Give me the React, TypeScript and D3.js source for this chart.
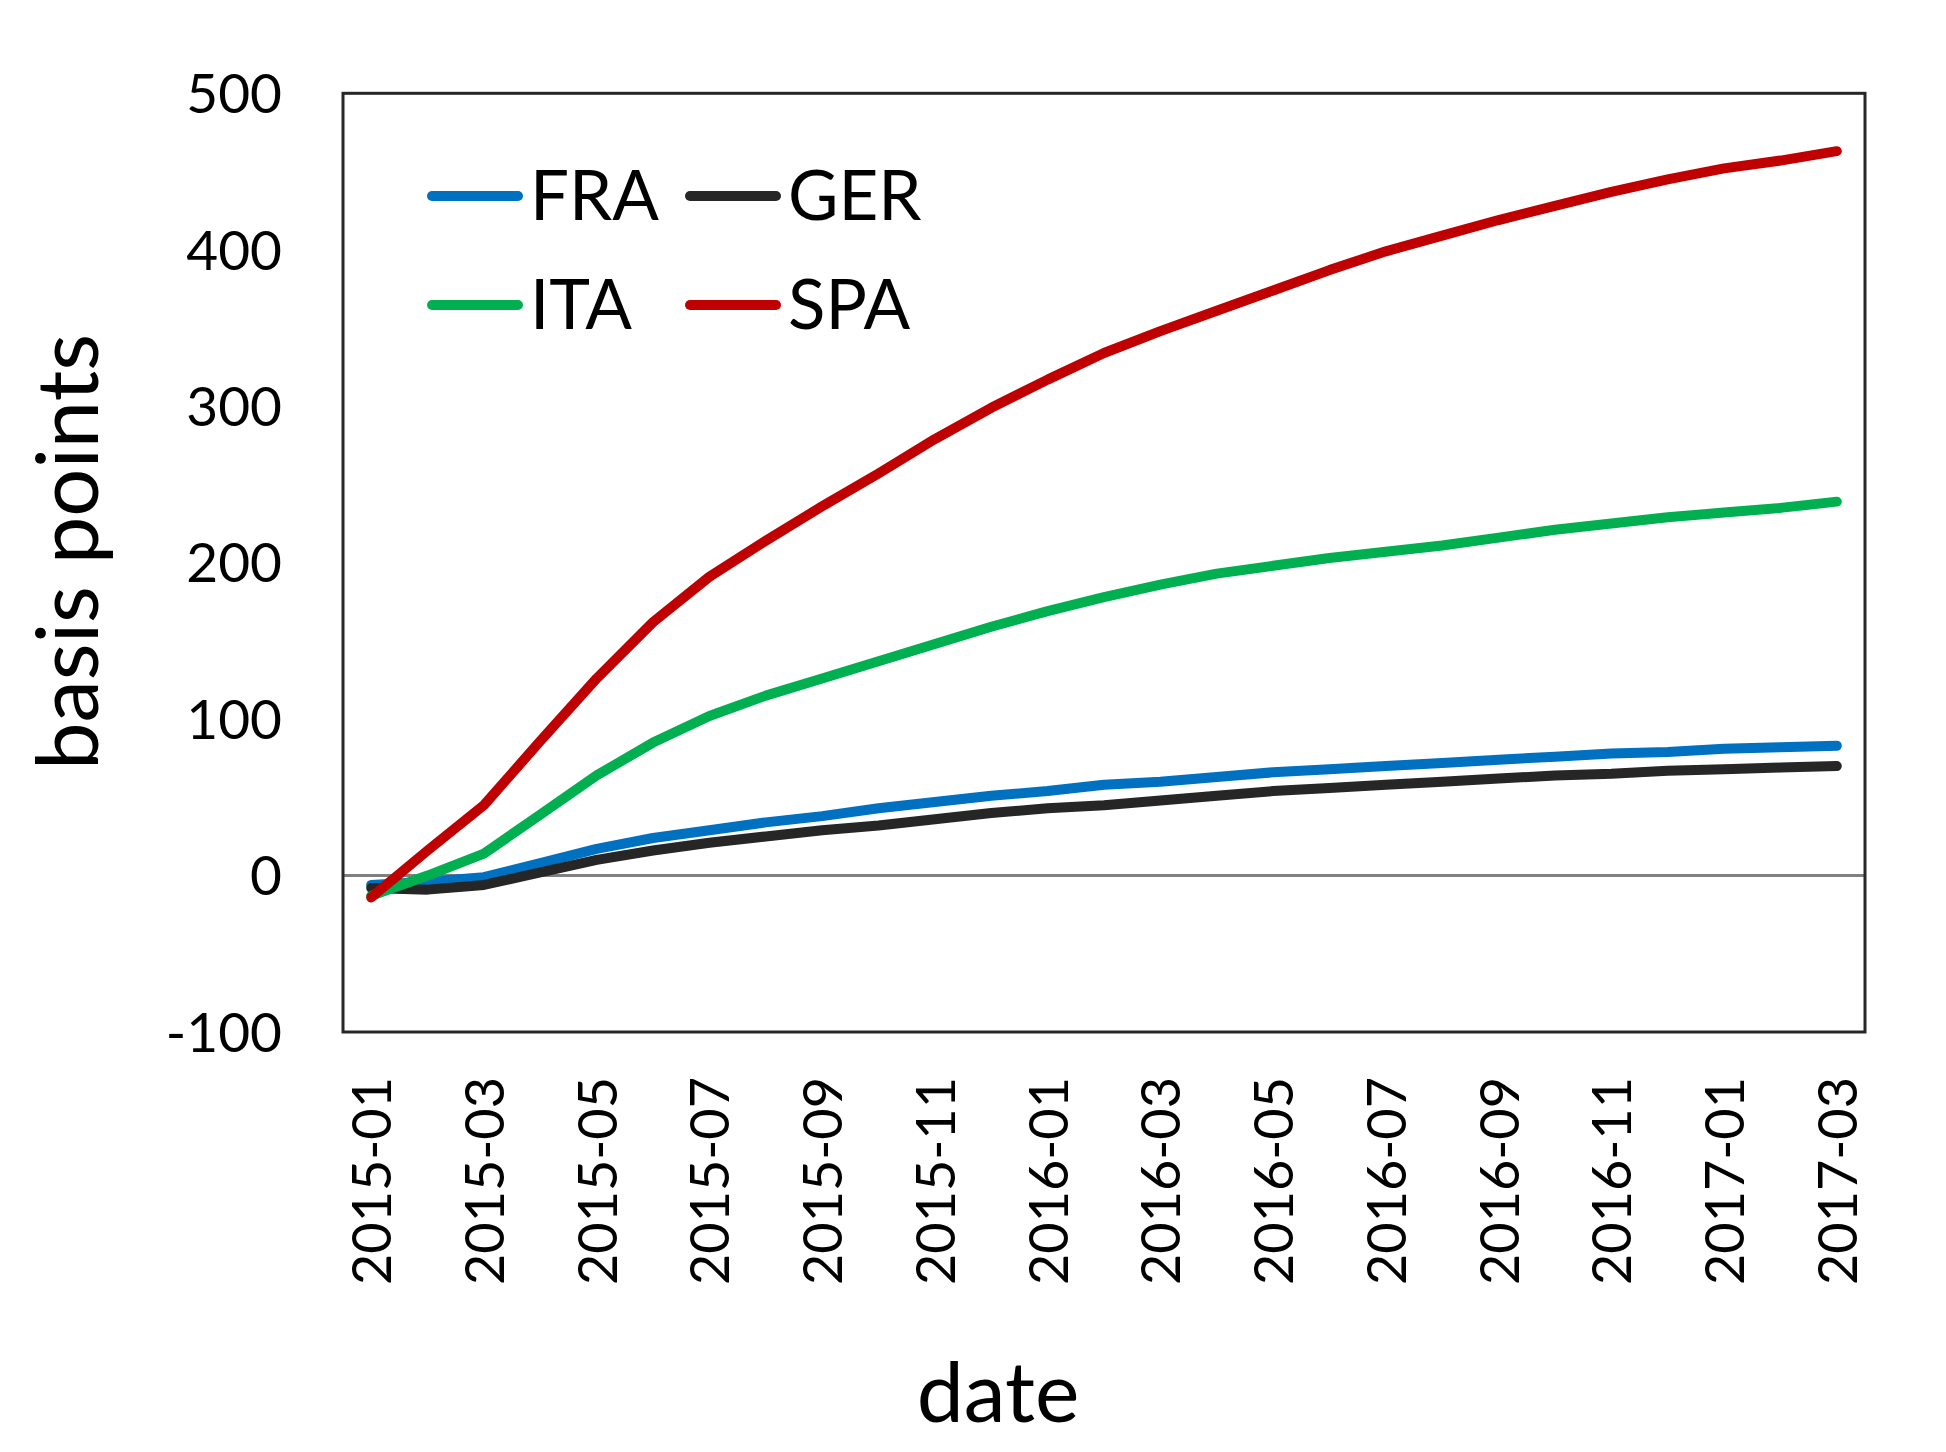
import React from "react";
import * as d3 from "d3";

const months: string[] = [
  "2015-01","2015-02","2015-03","2015-04","2015-05","2015-06","2015-07","2015-08","2015-09",
  "2015-10","2015-11","2015-12","2016-01","2016-02","2016-03","2016-04","2016-05","2016-06",
  "2016-07","2016-08","2016-09","2016-10","2016-11","2016-12","2017-01","2017-02","2017-03",
];

const fra: number[] = [-6,-4,-1,8,17,24,29,34,38,43,47,51,54,58,60,63,66,68,70,72,74,76,78,79,81,82,83];
const ger: number[] = [-8,-9,-6,2,10,16,21,25,29,32,36,40,43,45,48,51,54,56,58,60,62,64,65,67,68,69,70];
const ita: number[] = [-13,0,14,39,64,85,102,115,126,137,148,159,169,178,186,193,198,203,207,211,216,221,225,229,232,235,239];
const spa: number[] = [-14,16,45,86,126,162,191,214,236,257,279,299,317,334,348,361,374,387,399,409,419,428,437,445,452,457,463];

const seriesNames: string[] = ["FRA", "GER", "ITA", "SPA"];
const seriesColors: string[] = ["#0070C0", "#262626", "#00B050", "#C00000"];
const seriesValues: number[][] = [fra, ger, ita, spa];

const yTicks: number[] = [-100, 0, 100, 200, 300, 400, 500];
const xTickLabels: string[] = months.filter((_, i) => i % 2 === 0);

const FONT = "Lato, 'Open Sans', sans-serif";

export default function App() {
  const W = 1946, H = 1452;
  const left = 343, right = 1865, top = 93.3, bottom = 1032;

  const x = d3.scalePoint<string>().domain(months).range([left, right]).padding(0.5);
  const y = d3.scaleLinear().domain([-100, 500]).range([bottom, top]);

  const line = d3.line<number>()
    .x((_, i) => x(months[i]) as number)
    .y((d) => y(d));

  const legendItems = [
    { i: 0, lx: 427, ly: 196 },
    { i: 1, lx: 685, ly: 196 },
    { i: 2, lx: 427, ly: 305 },
    { i: 3, lx: 685, ly: 305 },
  ];

  return (
    <svg width={W} height={H} style={{ position: "absolute", left: 0, top: 0, background: "#fff" }} fontFamily={FONT}>
      <rect x={0} y={0} width={W} height={H} fill="#fff" />
      {/* zero line */}
      <line x1={left} x2={right} y1={y(0)} y2={y(0)} stroke="#808080" strokeWidth={3} />
      {/* series */}
      {seriesValues.map((vals, si) => (
        <path key={seriesNames[si]} d={line(vals) || ""} fill="none" stroke={seriesColors[si]}
          strokeWidth={10} strokeLinecap="round" strokeLinejoin="round" />
      ))}
      {/* frame */}
      <rect x={left} y={top} width={right - left} height={bottom - top} fill="none" stroke="#262626" strokeWidth={3} />
      {/* y tick labels */}
      {yTicks.map((t) => (
        <text key={t} x={282} y={y(t)} dy="0.36em" textAnchor="end" fontSize={55} fill="#000">{t}</text>
      ))}
      {/* x tick labels */}
      {xTickLabels.map((m) => {
        const px = (x(m) as number) + 20;
        const py = 1077;
        return (
          <text key={m} transform={`translate(${px},${py}) rotate(-90)`} textAnchor="end" fontSize={54} fill="#000">{m}</text>
        );
      })}
      {/* axis titles */}
      <text transform={`translate(98,552) rotate(-90)`} textAnchor="middle" fontSize={85} fill="#000">basis points</text>
      <text x={998} y={1422} textAnchor="middle" fontSize={84} fill="#000">date</text>
      {/* legend */}
      {legendItems.map(({ i, lx, ly }) => (
        <g key={seriesNames[i]}>
          <line x1={lx + 5} x2={lx + 91} y1={ly} y2={ly} stroke={seriesColors[i]} strokeWidth={10} strokeLinecap="round" />
          <text x={lx + 103} y={ly + 24} fontSize={69} fill="#000">{seriesNames[i]}</text>
        </g>
      ))}
    </svg>
  );
}
